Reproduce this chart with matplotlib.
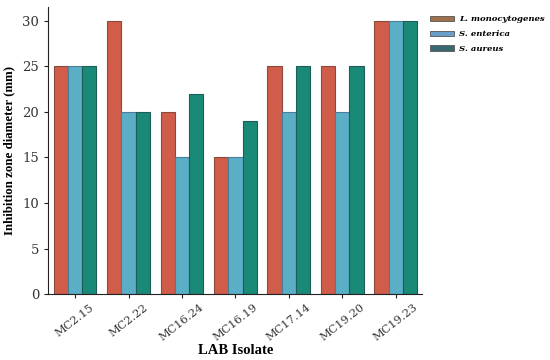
import matplotlib

matplotlib.use("Agg")

import matplotlib.pyplot as plt
import numpy as np
from matplotlib.patches import Patch

# Data
isolates = ["MC2.15", "MC2.22", "MC16.24", "MC16.19", "MC17.14", "MC19.20", "MC19.23"]
l_monocytogenes = [25, 30, 20, 15, 25, 25, 30]
s_enterica = [25, 20, 15, 15, 20, 20, 30]
s_aureus = [25, 20, 22, 19, 25, 25, 30]

series_names = ["L. monocytogenes", "S. enterica", "S. aureus"]
bar_colors = ["#d05c4a", "#5aaec6", "#1a8a78"]
edge_colors = ["#8a4a3a", "#4a7e98", "#1f5c58"]
legend_colors = ["#a0704a", "#6a9ec8", "#3a6870"]

fig = plt.figure(figsize=(5.5, 3.6), dpi=100)
ax = fig.add_axes([0.088, 0.183, 0.68, 0.797])

x = np.arange(len(isolates))
width = 0.8 / 3
for i, vals in enumerate([l_monocytogenes, s_enterica, s_aureus]):
    ax.bar(
        x + (i - 1) * width,
        vals,
        width=width,
        color=bar_colors[i],
        edgecolor=edge_colors[i],
        linewidth=0.8,
    )

ax.set_xlim(-0.5, len(isolates) - 0.5)
ax.set_ylim(0, 31.5)
ax.set_yticks([0, 5, 10, 15, 20, 25, 30])
ax.set_xticks(x)
ax.set_xticklabels(isolates, rotation=38, ha="center",
                   family="DejaVu Serif", fontsize=8.2, color="#333333")
for lbl in ax.get_yticklabels():
    lbl.set_family("DejaVu Serif")
    lbl.set_fontsize(9.5)
    lbl.set_color("#333333")

ax.spines["top"].set_visible(False)
ax.spines["right"].set_visible(False)
ax.spines["left"].set_color("#222222")
ax.spines["bottom"].set_color("#222222")
ax.tick_params(axis="both", length=3, color="#222222")
ax.tick_params(axis="x", pad=3)

ax.set_xlabel("LAB Isolate", family="Liberation Serif", fontweight="bold",
              fontsize=10.5, labelpad=1)
ax.set_ylabel("Inhibition zone diameter (mm)", family="Liberation Serif",
              fontweight="bold", fontsize=9.3, labelpad=5)

handles = [Patch(facecolor=c, edgecolor="#555555", linewidth=0.6) for c in legend_colors]
leg = ax.legend(handles, series_names, loc="upper left", bbox_to_anchor=(1.0, 0.998),
                frameon=False, handlelength=2.8, handleheight=0.6,
                handletextpad=0.6, labelspacing=0.8,
                prop={"family": "DejaVu Serif", "style": "italic",
                      "weight": "bold", "size": 6.1})

fig.savefig("out.png", dpi=100)
